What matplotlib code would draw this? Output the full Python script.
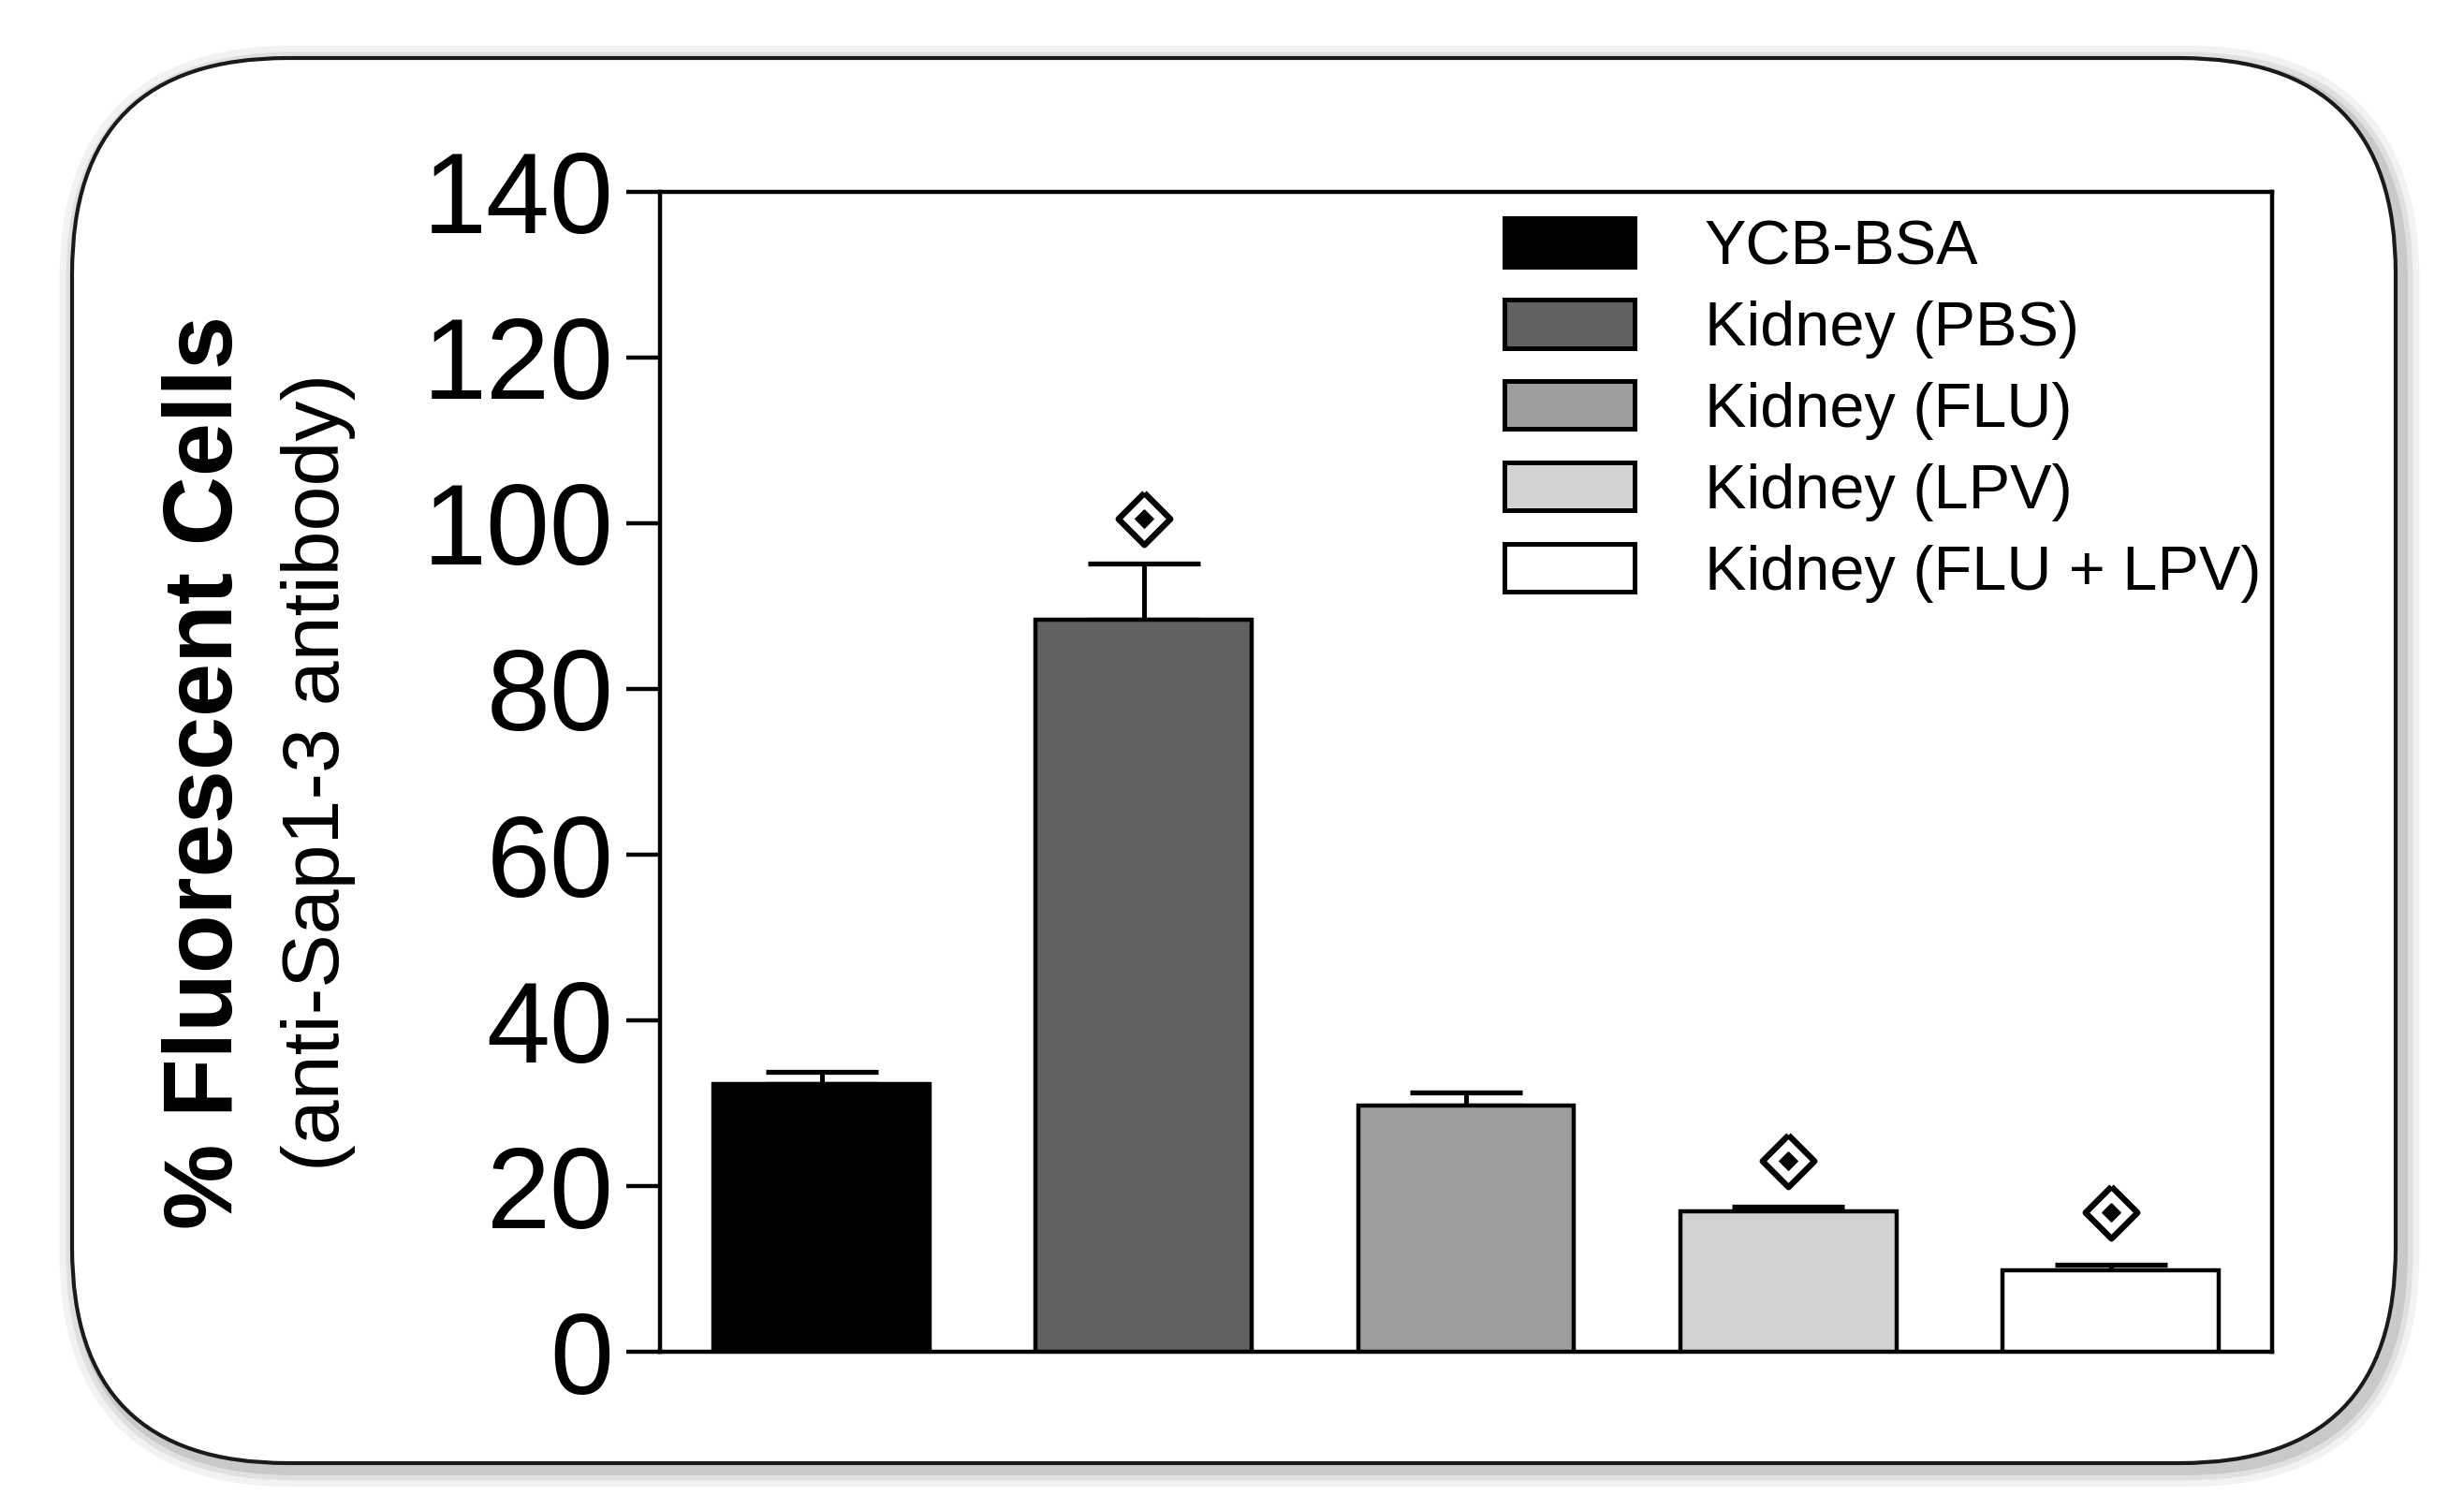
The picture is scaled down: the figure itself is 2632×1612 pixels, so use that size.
import matplotlib
matplotlib.use('Agg')
import matplotlib.pyplot as plt
from matplotlib.patches import FancyBboxPatch
import numpy as np

plt.rcParams.update({
    'font.family': ['Liberation Sans', 'DejaVu Sans'],
    'axes.linewidth': 1.6,
})

groups = ['YCB-BSA', 'Kidney (PBS)', 'Kidney (FLU)', 'Kidney (LPV)', 'Kidney (FLU + LPV)']
means = [32.3, 88.4, 29.7, 17.0, 9.9]
sem = [1.5, 6.7, 1.6, 0.5, 0.6]
colors = ['#000000', '#616161', '#9d9d9d', '#d2d2d2', '#ffffff']
sig_y = [np.nan, 100.5, np.nan, 23.1, 16.9]
yticks = [0, 20, 40, 60, 80, 100, 120, 140]

fig = plt.figure(figsize=(13.16, 8.06), dpi=200)

# rounded frame with soft shadow, in inches
x0, y0, w, h, r = 0.385, 0.245, 12.41, 7.505, 1.15
for lw, a in [(14, 0.05), (9, 0.07), (5, 0.10)]:
    sh = FancyBboxPatch((x0 + 0.03, y0 - 0.03), w, h,
                        boxstyle=f'round,pad=0,rounding_size={r}',
                        transform=fig.dpi_scale_trans, facecolor='none',
                        edgecolor='#000000', linewidth=lw, alpha=a, zorder=0)
    fig.add_artist(sh)
frame = FancyBboxPatch((x0, y0), w, h, boxstyle=f'round,pad=0,rounding_size={r}',
                       transform=fig.dpi_scale_trans, facecolor='white',
                       edgecolor='#1a1a1a', linewidth=1.5, zorder=1)
fig.add_artist(frame)

ax = fig.add_axes([0.268, 0.104, 0.654, 0.769])
ax.set_zorder(2)
ax.patch.set_alpha(0)

x = np.arange(len(groups))
bars = ax.bar(x, means, width=0.67, color=colors, edgecolor='black',
              linewidth=1.6, zorder=3)
ax.errorbar(x, means, yerr=[np.zeros(len(sem)), sem], fmt='none', ecolor='black',
            elinewidth=1.8, capsize=21.5, capthick=1.9, zorder=2)

diamond = [(0, 1), (1, 0), (0, -1), (-1, 0), (0, 1)]
ax.plot(x, sig_y, linestyle='none', marker=diamond, markersize=20,
        markerfacecolor='white', markeredgecolor='black', markeredgewidth=2.3, zorder=4)
ax.plot(x, sig_y, linestyle='none', marker=diamond, markersize=7,
        markerfacecolor='black', markeredgecolor='black', markeredgewidth=0.5, zorder=5)

ax.set_xlim(-0.5, 4.5)
ax.set_ylim(0, 140)
ax.set_yticks(yticks)
ax.set_xticks([])
ax.tick_params(axis='y', direction='out', length=13, width=1.6, pad=5, labelsize=44)

leg = ax.legend(bars, groups, loc='upper left', bbox_to_anchor=(0.524, 0.977),
                frameon=False, fontsize=24, borderpad=0, borderaxespad=0,
                handlelength=2.08, handleheight=0.81, handletextpad=1.12,
                labelspacing=0.36)
for p in leg.get_patches():
    p.set_linewidth(1.8)

fig.text(0.084, 0.488, '% Fluorescent Cells', rotation=90, ha='center', va='center',
         fontsize=37, fontweight='bold')
fig.text(0.129, 0.488, '(anti-Sap1-3 antibody)', rotation=90, ha='center', va='center',
         fontsize=31)

fig.savefig('out.png', dpi=200, facecolor='white')
